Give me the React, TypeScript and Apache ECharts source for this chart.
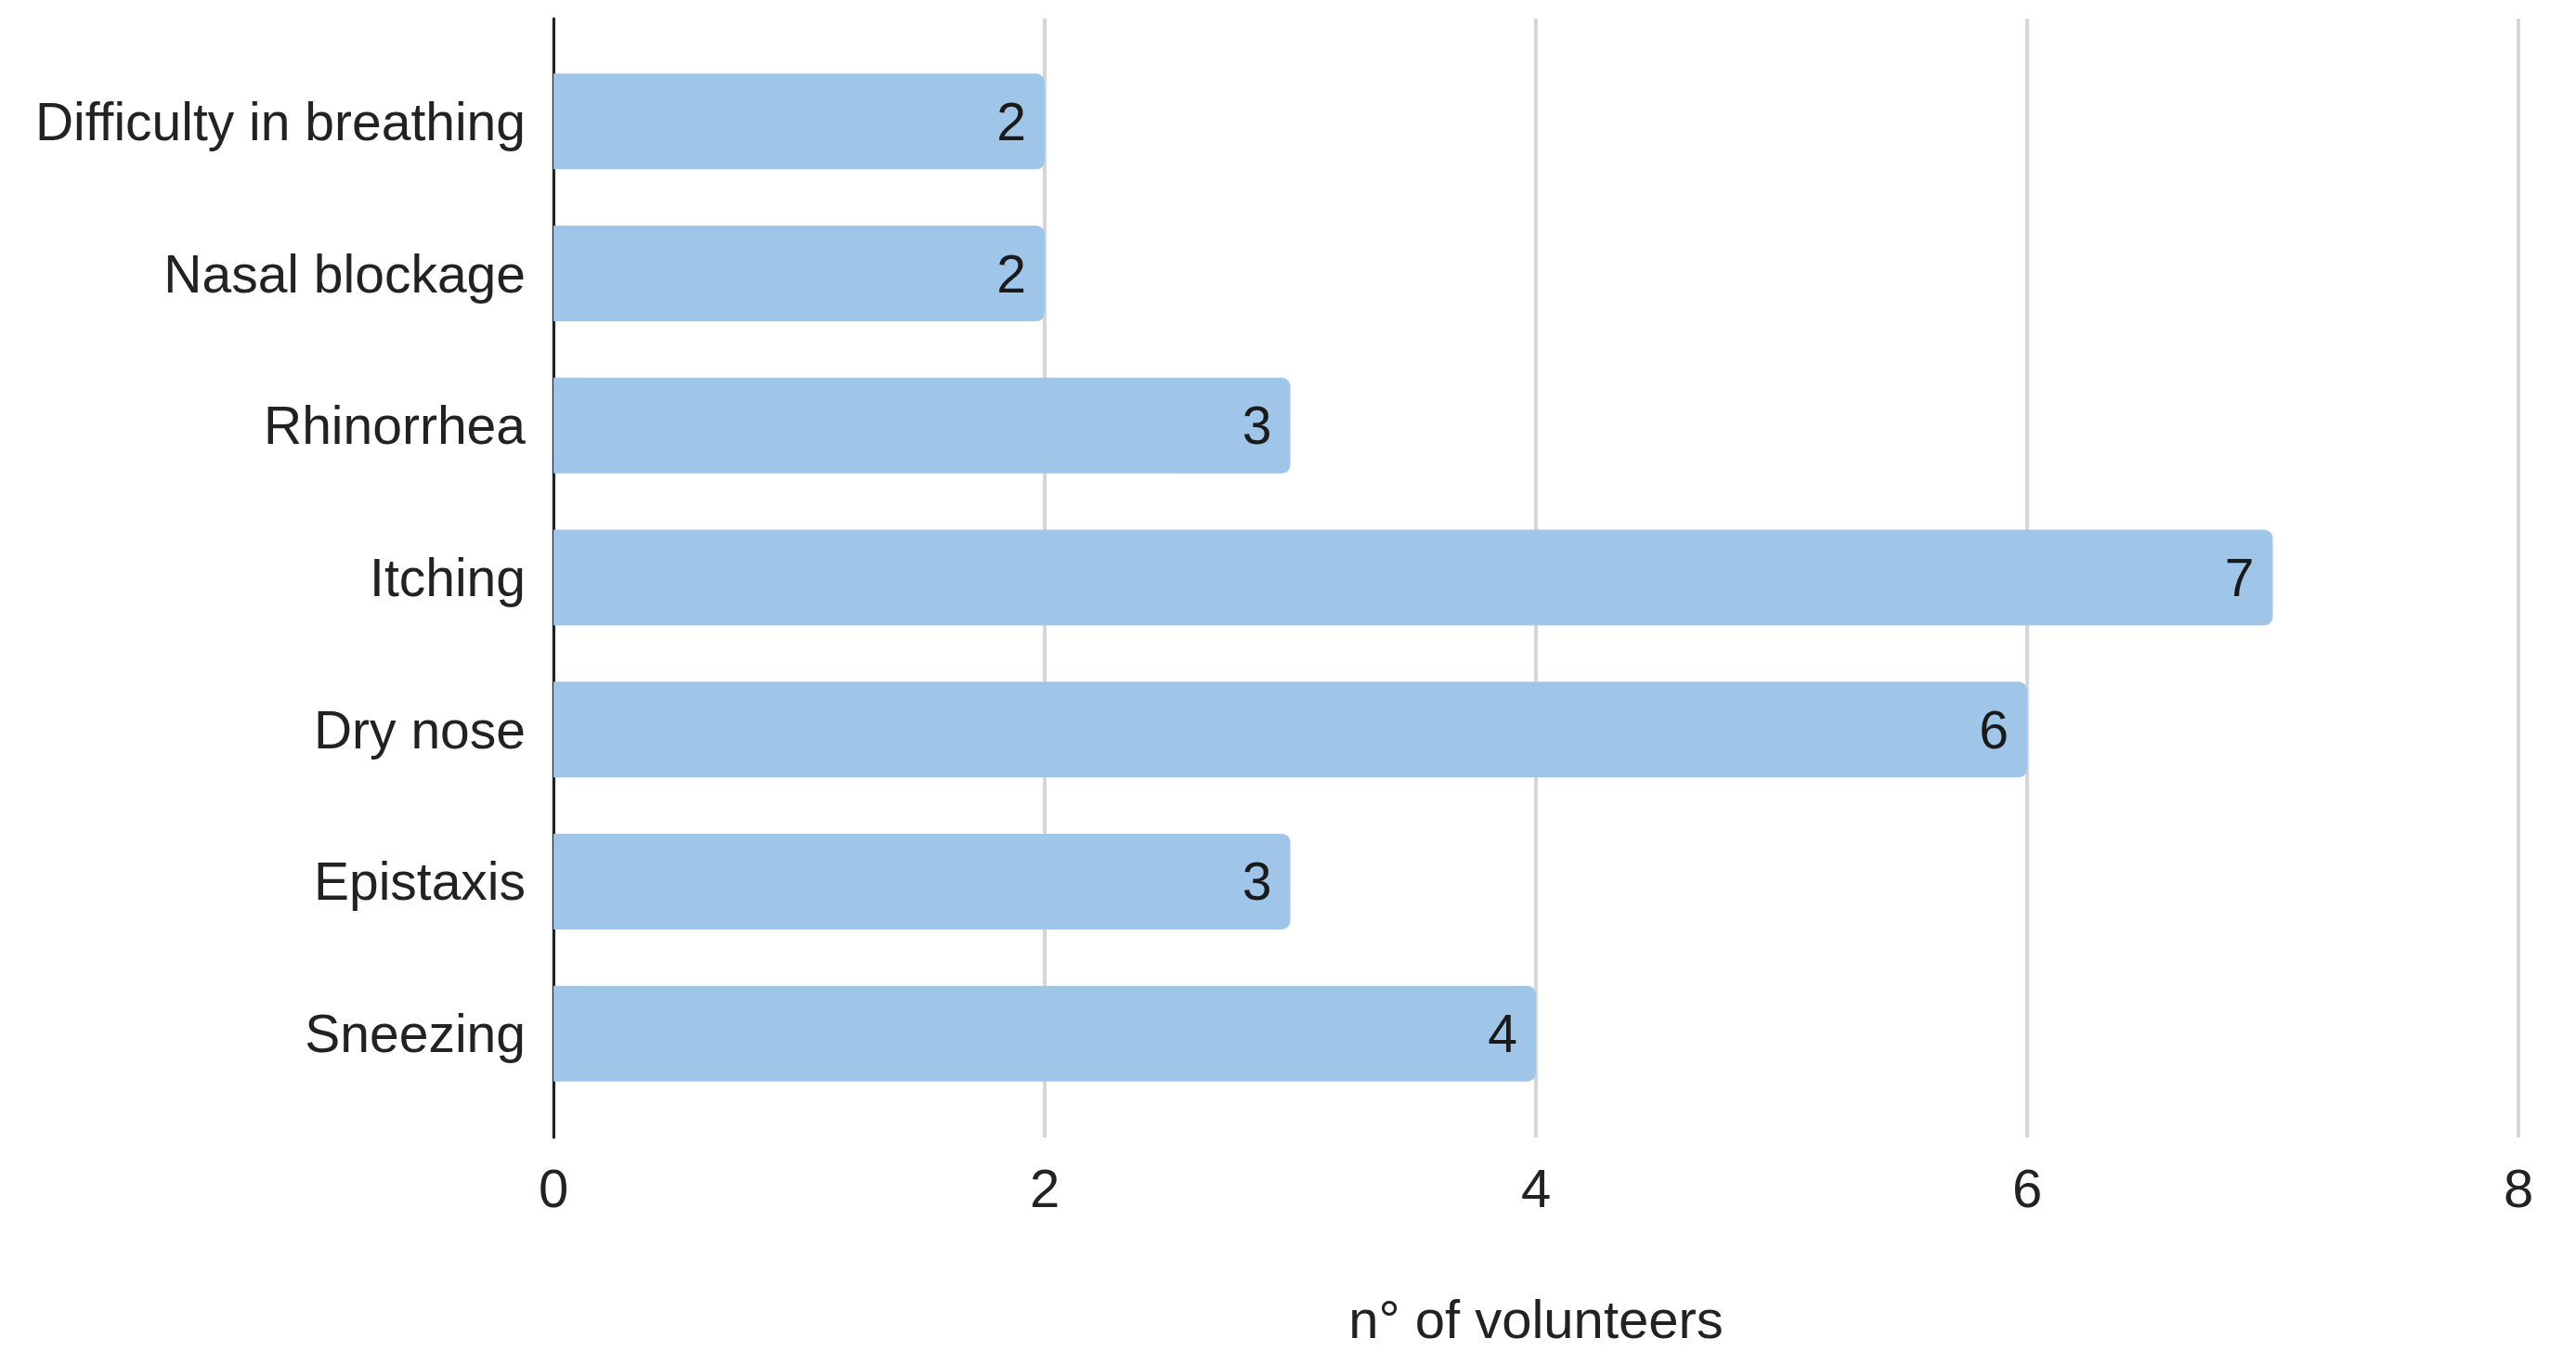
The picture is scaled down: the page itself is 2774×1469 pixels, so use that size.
import React, { useEffect, useRef } from "react";
import * as echarts from "echarts";

const categories = [
  "Difficulty in breathing",
  "Nasal blockage",
  "Rhinorrhea",
  "Itching",
  "Dry nose",
  "Epistaxis",
  "Sneezing",
];
const volunteers = [2, 2, 3, 7, 6, 3, 4];
const xTicks = [0, 2, 4, 6, 8];
const xTitle = "n° of volunteers";

const FONT = "Liberation Sans, Arial, sans-serif";

export default function App() {
  const ref = useRef<HTMLDivElement>(null);
  useEffect(() => {
    if (!ref.current) return;
    const chart = echarts.init(ref.current, null, { renderer: "svg" });
    const xMin = xTicks[0];
    const xMax = xTicks[xTicks.length - 1];
    const interval = xTicks[1] - xTicks[0];
    chart.setOption({
      animation: false,
      backgroundColor: "#ffffff",
      grid: [
        { left: 596, right: 62, top: 49, bottom: 274 },
        { left: 596, right: 62, top: 20, bottom: 244 },
      ],
      xAxis: [
        {
          gridIndex: 0,
          type: "value",
          min: xMin,
          max: xMax,
          interval,
          show: false,
        },
        {
          gridIndex: 1,
          type: "value",
          min: xMin,
          max: xMax,
          interval,
          axisLine: { show: false },
          axisTick: { show: false },
          splitLine: { show: true, lineStyle: { color: "#d6d6d6", width: 4 } },
          axisLabel: {
            show: true,
            margin: 25,
            fontSize: 58,
            color: "#222222",
            fontFamily: FONT,
          },
          name: xTitle,
          nameLocation: "middle",
          nameGap: 166,
          nameTextStyle: { fontSize: 58, color: "#222222", fontFamily: FONT },
        },
      ],
      yAxis: [
        {
          gridIndex: 0,
          type: "category",
          data: categories,
          inverse: true,
          axisLine: { show: false },
          axisTick: { show: false },
          splitLine: { show: false },
          axisLabel: {
            margin: 30,
            fontSize: 57,
            color: "#222222",
            fontFamily: FONT,
          },
        },
        {
          gridIndex: 1,
          type: "category",
          data: categories,
          inverse: true,
          axisLine: { show: true, lineStyle: { color: "#222222", width: 3 } },
          axisTick: { show: false },
          axisLabel: { show: false },
          splitLine: { show: false },
        },
      ],
      series: [
        {
          type: "bar",
          xAxisIndex: 0,
          yAxisIndex: 0,
          data: volunteers,
          barWidth: 103,
          itemStyle: { color: "#9fc5e8", borderRadius: [0, 9, 9, 0] },
          label: {
            show: true,
            position: "insideRight",
            distance: 20,
            fontSize: 57,
            color: "#1a1a1a",
            fontFamily: FONT,
          },
        },
      ],
    });
    return () => chart.dispose();
  }, []);
  return (
    <div
      ref={ref}
      style={{ position: "absolute", left: 0, top: 0, width: 2774, height: 1469 }}
    />
  );
}
